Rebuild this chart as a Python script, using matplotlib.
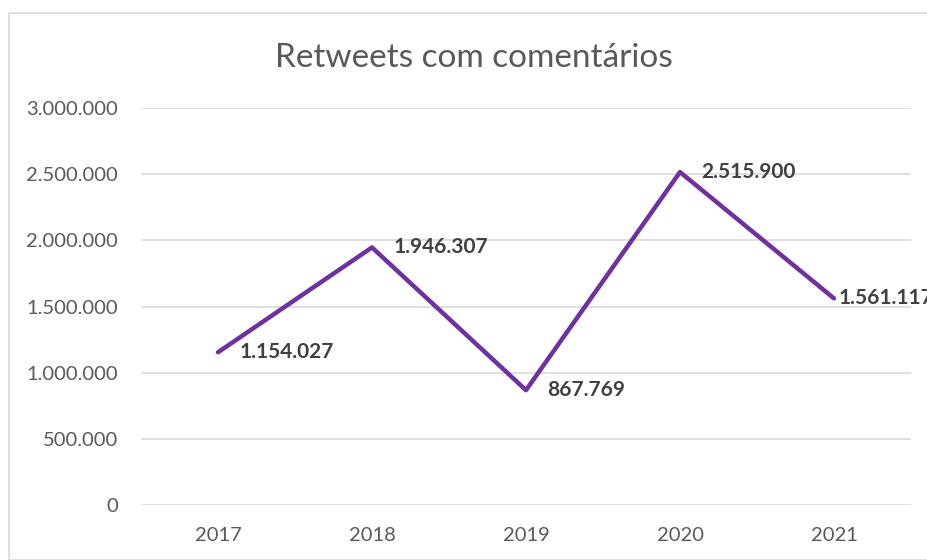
import matplotlib
matplotlib.use("Agg")
import matplotlib.pyplot as plt
from matplotlib.ticker import FuncFormatter, MultipleLocator
from matplotlib.patches import Rectangle

years = ["2017", "2018", "2019", "2020", "2021"]
values = [1154027, 1946307, 867769, 2515900, 1561117]
title = "Retweets com comentários"

plt.rcParams['font.family'] = ['Lato', 'DejaVu Sans']

W, H = 928, 560
fig = plt.figure(figsize=(W / 100, H / 100), dpi=100)
fig.patch.set_facecolor("white")

# chart border
fig.patches.append(Rectangle((9 / W, 0), 1, 1 - 13 / H, transform=fig.transFigure,
                             fill=False, edgecolor="#d9d9d9", linewidth=1.2))

left, right = 141 / W, 911 / W
bottom, top = 1 - 505 / H, 1 - 108 / H
ax = fig.add_axes([left, bottom, right - left, top - bottom])

x = list(range(len(years)))
ax.plot(x, values, color="#7030A0", linewidth=3.2, solid_capstyle="round", zorder=3)

ax.set_xlim(-0.5, len(years) - 0.5)
ax.set_ylim(0, 3000000)
ax.yaxis.set_major_locator(MultipleLocator(500000))

def fmt(v, pos=None):
    return f"{int(round(v)):,}".replace(",", ".")

ax.yaxis.set_major_formatter(FuncFormatter(fmt))
ax.set_xticks(x)
ax.set_xticklabels(years)

ax.grid(axis="y", color="#d9d9d9", linewidth=1.2, zorder=0)
for s in ax.spines.values():
    s.set_visible(False)
ax.tick_params(axis="both", length=0, colors="#595959", labelsize=14.5)
ax.tick_params(axis="y", pad=16.5)
ax.tick_params(axis="x", pad=16)

offsets = [15.5, 15.5, 15.5, 15.5, 3]
for xi, v, off in zip(x, values, offsets):
    ax.annotate(fmt(v), (xi, v), xytext=(off, 0), textcoords="offset points",
                ha="left", va="center", fontsize=15, fontweight="bold",
                color="#404040", zorder=4, annotation_clip=False)

fig.text(474 / W, 1 - 58 / H, title, ha="center", va="center",
         fontsize=24, color="#595959")

fig.savefig("out.png", dpi=100, facecolor="white")
